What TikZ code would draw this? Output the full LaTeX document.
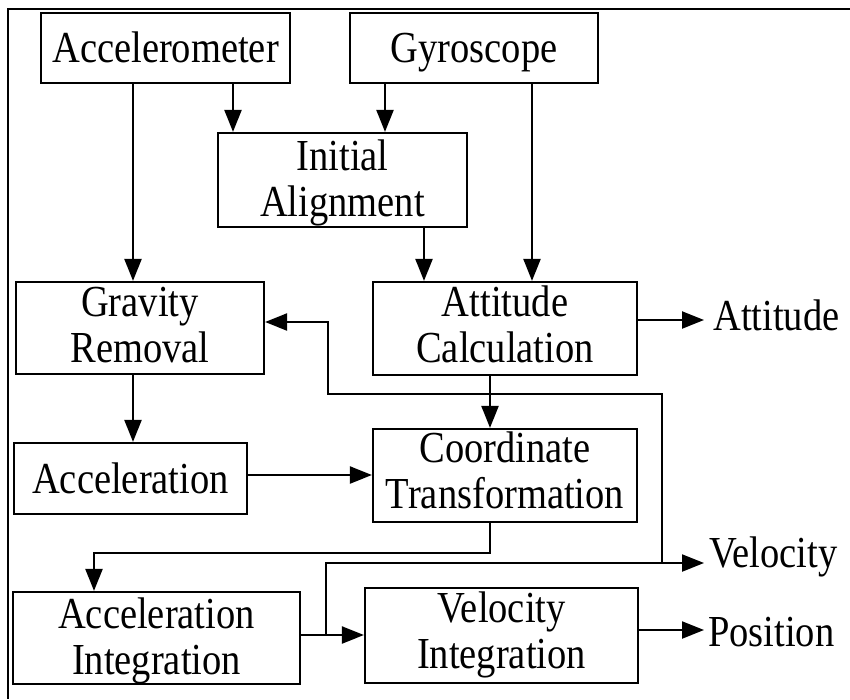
\documentclass[tikz,border=0pt]{standalone}
\usepackage{graphicx}
\usepackage{fontspec}
\setmainfont{Liberation Serif}
\usetikzlibrary{arrows.meta}
\newcommand{\vs}[1]{\scalebox{1}[1.15]{#1}}
\newcommand{\ml}[2]{\scalebox{1}[1.15]{\begin{tabular}[t]{@{}c@{}}#1\\#2\end{tabular}}}
\begin{document}
\begin{tikzpicture}[x=1pt,y=-1pt,
  box/.style={draw,line width=2.2pt,inner sep=0pt,
    font=\fontsize{38.5}{40}\selectfont},
  onebox/.style={box,text height=#1,text depth=0pt},
  twobox/.style={box,text height=0pt,text depth=#1},
  outtext/.style={inner sep=0pt,anchor=base west,font=\fontsize{38.5}{40}\selectfont},
  arr/.style={line width=2.2pt,-{Triangle[length=22pt,width=17pt]}},
  ln/.style={line width=2.2pt}]
\useasboundingbox (0,0) rectangle (850,699);
% frame
\draw[line width=1.6pt] (850,9) -- (8,9) -- (8,699);
% boxes
\node[onebox=28pt,minimum width=249pt,minimum height=70pt] (acc) at (165.5,48) {\vs{Accelerometer}};
\node[onebox=28pt,minimum width=248pt,minimum height=70pt] (gyro) at (474,48) {\vs{Gyroscope}};
\node[twobox=20pt,minimum width=249pt,minimum height=94pt] (ia) at (342.5,180) {\ml{Initial}{Alignment}};
\node[twobox=23pt,minimum width=248pt,minimum height=92pt] (grav) at (140,328) {\ml{Gravity}{Removal}};
\node[twobox=24pt,minimum width=264pt,minimum height=93pt] (att) at (505,328.5) {\ml{Attitude}{Calculation}};
\node[onebox=30pt,minimum width=233pt,minimum height=71pt] (accel) at (130.5,478.5) {\vs{Acceleration}};
\node[twobox=27pt,minimum width=264pt,minimum height=93pt] (ct) at (505,475.5) {\ml{Coordinate}{Transformation}};
\node[twobox=20pt,minimum width=287pt,minimum height=92pt] (ai) at (156.5,638) {\ml{Acceleration}{Integration}};
\node[twobox=27pt,minimum width=273pt,minimum height=95pt] (vi) at (501.5,635.5) {\ml{Velocity}{Integration}};
% outputs
\node[outtext] (attout) at (713,330) {\vs{Attitude}};
\node[outtext] (velout) at (709,567) {\vs{Velocity}};
\node[outtext] (posout) at (708,646) {\vs{Position}};
% helper coordinates
\coordinate (x94) at (94,0);
\coordinate (x133) at (133,0);
\coordinate (x233) at (233,0);
\coordinate (x326) at (326,0);
\coordinate (x328) at (328,0);
\coordinate (x385) at (385,0);
\coordinate (x424) at (424,0);
\coordinate (x490) at (490,0);
\coordinate (x532) at (532,0);
\coordinate (x662) at (662,0);
\coordinate (tipx) at (704,0);
\coordinate (y320) at (0,320);
\coordinate (y322) at (0,322);
\coordinate (y394) at (0,394);
\coordinate (y475) at (0,475);
\coordinate (y553) at (0,553);
\coordinate (y563) at (0,563);
\coordinate (y630) at (0,630);
\coordinate (y635) at (0,635);
% connectors
\draw[arr] (x133 |- acc.south) -- (x133 |- grav.north);
\draw[arr] (x233 |- acc.south) -- (x233 |- ia.north);
\draw[arr] (x385 |- gyro.south) -- (x385 |- ia.north);
\draw[arr] (x532 |- gyro.south) -- (x532 |- att.north);
\draw[arr] (x424 |- ia.south) -- (x424 |- att.north);
\draw[arr] (att.east |- y320) -- (tipx |- y320);
\draw[arr] (x133 |- grav.south) -- (x133 |- accel.north);
\draw[arr] (x490 |- att.south) -- (x490 |- ct.north);
\draw[arr] (accel.east |- y475) -- (ct.west |- y475);
\draw[arr] (x490 |- ct.south) |- (x94 |- y553) -- (x94 |- ai.north);
\draw[arr] (ai.east |- y635) -- (vi.west |- y635);
\draw[arr] (x326 |- y635) -- (x326 |- y563) -- (tipx |- y563);
\draw[arr] (x662 |- y563) -- (x662 |- y394) -- (x328 |- y394) -- (x328 |- y322) -- (grav.east |- y322);
\draw[arr] (vi.east |- y630) -- (tipx |- y630);
\end{tikzpicture}
\end{document}
